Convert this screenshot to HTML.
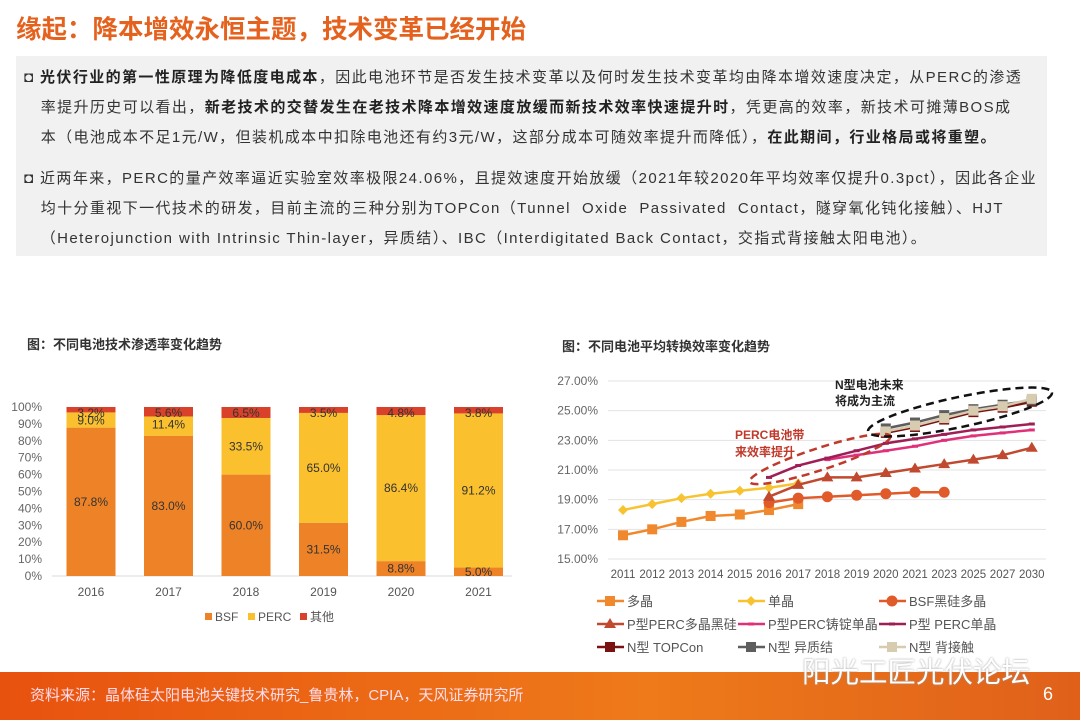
<!DOCTYPE html>
<html><head><meta charset="utf-8">
<style>
body{margin:0;width:1080px;height:720px;overflow:hidden;background:#fff;font-family:"Liberation Sans","Noto Sans CJK SC",sans-serif;position:relative}
.title{position:absolute;left:16px;top:9px;font-size:25.5px;font-weight:bold;color:#E4621E}
.box{position:absolute;left:16px;top:56px;width:1031px;height:200px;background:#f1f1f1}
.p{position:absolute;left:24px;font-size:15px;color:#333;line-height:30px;width:1020px;letter-spacing:1.4px;white-space:nowrap}
.p b{color:#222}
.ctitle{position:absolute;font-size:13px;font-weight:bold;color:#333}
.footer{position:absolute;left:0;top:672px;width:1080px;height:48px;background:linear-gradient(90deg,#E8520F,#EE7A1A 60%,#E0601A)}
</style></head><body>
<div class="title">缘起：降本增效永恒主题，技术变革已经开始</div>
<div class="box"></div>
<div class="p" style="top:63px">◘ <b>光伏行业的第一性原理为降低度电成本</b>，因此电池环节是否发生技术变革以及何时发生技术变革均由降本增效速度决定，从PERC的渗透<br>&nbsp;&nbsp;&nbsp;率提升历史可以看出，<b>新老技术的交替发生在老技术降本增效速度放缓而新技术效率快速提升时</b>，凭更高的效率，新技术可摊薄BOS成<br>&nbsp;&nbsp;&nbsp;本（电池成本不足1元/W，但装机成本中扣除电池还有约3元/W，这部分成本可随效率提升而降低），<b>在此期间，行业格局或将重塑。</b></div>
<div class="p" style="top:164px">◘ 近两年来，PERC的量产效率逼近实验室效率极限24.06%，且提效速度开始放缓（2021年较2020年平均效率仅提升0.3pct），因此各企业<br>&nbsp;&nbsp;&nbsp;均十分重视下一代技术的研发，目前主流的三种分别为TOPCon（Tunnel&nbsp;&nbsp;Oxide&nbsp;&nbsp;Passivated&nbsp;&nbsp;Contact，隧穿氧化钝化接触）、HJT<br>&nbsp;&nbsp;&nbsp;（Heterojunction with Intrinsic Thin-layer，异质结）、IBC（Interdigitated Back Contact，交指式背接触太阳电池）。</div>
<div class="ctitle" style="left:27px;top:334px">图：不同电池技术渗透率变化趋势</div>
<div class="ctitle" style="left:562px;top:336px">图：不同电池平均转换效率变化趋势</div>
<svg id="bar" width="540" height="260" style="position:absolute;left:0;top:390px"></svg>
<svg id="line" width="540" height="300" style="position:absolute;left:540px;top:365px"></svg>
<div class="footer">
<div style="position:absolute;left:30px;top:12px;font-size:15px;color:#fde">资料来源：晶体硅太阳电池关键技术研究_鲁贵林，CPIA，天风证券研究所</div>
<div style="position:absolute;left:802px;top:-22px;font-size:28.5px;color:#fff;text-shadow:0 0 2px #999">阳光工匠光伏论坛</div>
<div style="position:absolute;left:1043px;top:12px;font-size:18px;color:#fff">6</div>
</div>
<script>
const NS="http://www.w3.org/2000/svg";
function mk(p,t,a){const e=document.createElementNS(NS,t);for(const k in a)e.setAttribute(k,a[k]);p.appendChild(e);return e;}
// ---- bar chart data
const years=["2016","2017","2018","2019","2020","2021"];
const bsf=[87.8,83.0,60.0,31.5,8.8,5.0];
const perc=[9.0,11.4,33.5,65.0,86.4,91.2];
const other=[3.2,5.6,6.5,3.5,4.8,3.8];
const yTicks=[0,10,20,30,40,50,60,70,80,90,100];
(function(){
const s=document.getElementById('bar');
const y0=186,h=169,x0=52,step=77.5,bw=49;
const Y=v=>y0-v/100*h, X=i=>x0+39+i*step;
yTicks.forEach(t=>{const e=mk(s,'text',{x:42,y:Y(t)+4,'text-anchor':'end','font-size':12,fill:'#666'});e.textContent=t+'%';
});
mk(s,'line',{x1:x0,x2:512,y1:y0,y2:y0,stroke:'#d9d9d9'});
const cols=['#EE8226','#FBC02D','#D9412A'];
years.forEach((yr,i)=>{let acc=0;[bsf[i],perc[i],other[i]].forEach((v,j)=>{
const r=mk(s,'rect',{x:X(i)-bw/2,y:Y(acc+v),width:bw,height:Y(acc)-Y(acc+v),fill:cols[j]});

const ty=(j==2)?Y(acc+v)+10:Y(acc+v/2)+4;
const lt=mk(s,'text',{x:X(i),y:j==1&&v<15?Y(acc+v)+12:ty,'text-anchor':'middle','font-size':12,fill:'#333'});lt.textContent=v.toFixed(1)+'%';

acc+=v;});
const t=mk(s,'text',{x:X(i),y:y0+20,'text-anchor':'middle','font-size':12,fill:'#555'});t.textContent=yr;
});
[['BSF',205],['PERC',248],['其他',300]].forEach((l,j)=>{const g=mk(s,'g',{});
mk(g,'rect',{x:l[1],y:223,width:7,height:7,fill:cols[j]});const t=mk(g,'text',{x:l[1]+10,y:231,'font-size':12,fill:'#555'});t.textContent=l[0];});
})();
// ---- line chart data
const cats=["2011","2012","2013","2014","2015","2016","2017","2018","2019","2020","2021","2023","2025","2027","2030"];
const duojing=[16.6,17.0,17.5,17.9,18.0,18.3,18.7,null,null,null,null,null,null,null,null];
const danjing=[18.3,18.7,19.1,19.4,19.6,19.8,20.1,null,null,null,null,null,null,null,null];
const bsfBlack=[null,null,null,null,null,18.8,19.1,19.2,19.3,19.4,19.5,19.5,null,null,null];
const percMulti=[null,null,null,null,null,19.2,20.0,20.5,20.5,20.8,21.1,21.4,21.7,22.0,22.5];
const percCast=[null,null,null,null,null,null,null,21.7,22.0,22.3,22.6,23.0,23.3,23.5,23.7];
const percMono=[null,null,null,null,null,20.5,21.3,21.8,22.3,22.8,23.1,23.4,23.7,23.9,24.1];
const topcon=[null,null,null,null,null,null,null,null,null,23.5,23.9,24.4,24.9,25.2,25.6];
const hjt=[null,null,null,null,null,null,null,null,null,23.8,24.2,24.7,25.1,25.4,25.7];
const ibc=[null,null,null,null,null,null,null,null,null,23.6,24.0,24.5,25.0,25.3,25.8];
const effTicks=[15,17,19,21,23,25,27];
(function(){
const s=document.getElementById('line');
const Y=v=>194-(v-15)/12*178, X=i=>83+i*29.2;
effTicks.forEach(t=>{mk(s,'line',{x1:68,x2:506,y1:Y(t),y2:Y(t),stroke:'#e3e3e3'});
const e=mk(s,'text',{x:58,y:Y(t)+4,'text-anchor':'end','font-size':12,fill:'#666'});e.textContent=t.toFixed(2)+'%';
});
cats.forEach((c,i)=>{const e=mk(s,'text',{x:X(i),y:213,'text-anchor':'middle','font-size':11.5,fill:'#555'});e.textContent=c;
});
const series=[["多晶",duojing,'#F0882E','sq'],["单晶",danjing,'#F7C330','dia'],["BSF黑硅多晶",bsfBlack,'#E05A2A','cir'],
["P型PERC多晶黑硅",percMulti,'#C0492F','tri'],["P型PERC铸锭单晶",percCast,'#E0307A','dash'],["P型 PERC单晶",percMono,'#9E1F55','dash'],
["N型 TOPCon",topcon,'#7B1212','sq'],["N型 异质结",hjt,'#5E5E5E','sq'],["N型 背接触",ibc,'#D8CCB0','sq']];
function marker(g,x,y,type,c){
if(type=='sq')mk(g,'rect',{x:x-5,y:y-5,width:10,height:10,fill:c});
else if(type=='dia')mk(g,'polygon',{points:`${x},${y-5} ${x+5},${y} ${x},${y+5} ${x-5},${y}`,fill:c});
else if(type=='cir')mk(g,'circle',{cx:x,cy:y,r:5.5,fill:c});
else if(type=='tri')mk(g,'polygon',{points:`${x},${y-6} ${x+6},${y+4} ${x-6},${y+4}`,fill:c});
else mk(g,'rect',{x:x-3,y:y-1.5,width:6,height:3,fill:c});}
series.forEach(([n,d,c,m])=>{const g=mk(s,'g',{});
const pts=[];d.forEach((v,i)=>{if(v!=null)pts.push([X(i),Y(v)]);});
mk(g,'polyline',{points:pts.map(p=>p.join(',')).join(' '),fill:'none',stroke:c,'stroke-width':2.5});
pts.forEach(p=>marker(g,p[0],p[1],m,c));});
// annotations
const e1=mk(s,'ellipse',{cx:280,cy:94,rx:74,ry:11,transform:'rotate(-18 280 94)',fill:'none',stroke:'#C0392B','stroke-width':2.5,'stroke-dasharray':'8,5'});

const e2=mk(s,'ellipse',{cx:420,cy:47,rx:94,ry:15,transform:'rotate(-12 420 47)',fill:'none',stroke:'#111','stroke-width':2.5,'stroke-dasharray':'8,5'});

const a1=mk(s,'text',{x:195,y:74,'font-size':12,'font-weight':'bold',fill:'#C0392B'});a1.textContent='PERC电池带';
const a2=mk(s,'text',{x:195,y:91,'font-size':12,'font-weight':'bold',fill:'#C0392B'});a2.textContent='来效率提升';
const a3=mk(s,'text',{x:295,y:24,'font-size':12,'font-weight':'bold',fill:'#222'});a3.textContent='N型电池未来';
const a4=mk(s,'text',{x:295,y:40,'font-size':12,'font-weight':'bold',fill:'#222'});a4.textContent='将成为主流';
// legend
series.forEach(([n,d,c,m],k)=>{const col=k%3,row=Math.floor(k/3);const x=57+col*141,y=236+row*23;
const g=mk(s,'g',{});
mk(g,'line',{x1:x,x2:x+27,y1:y,y2:y,stroke:c,'stroke-width':2.5});marker(g,x+13,y,m,c);
const t=mk(g,'text',{x:x+30,y:y+5,'font-size':13,fill:'#555'});t.textContent=n;});
})();
</script>
</body></html>
